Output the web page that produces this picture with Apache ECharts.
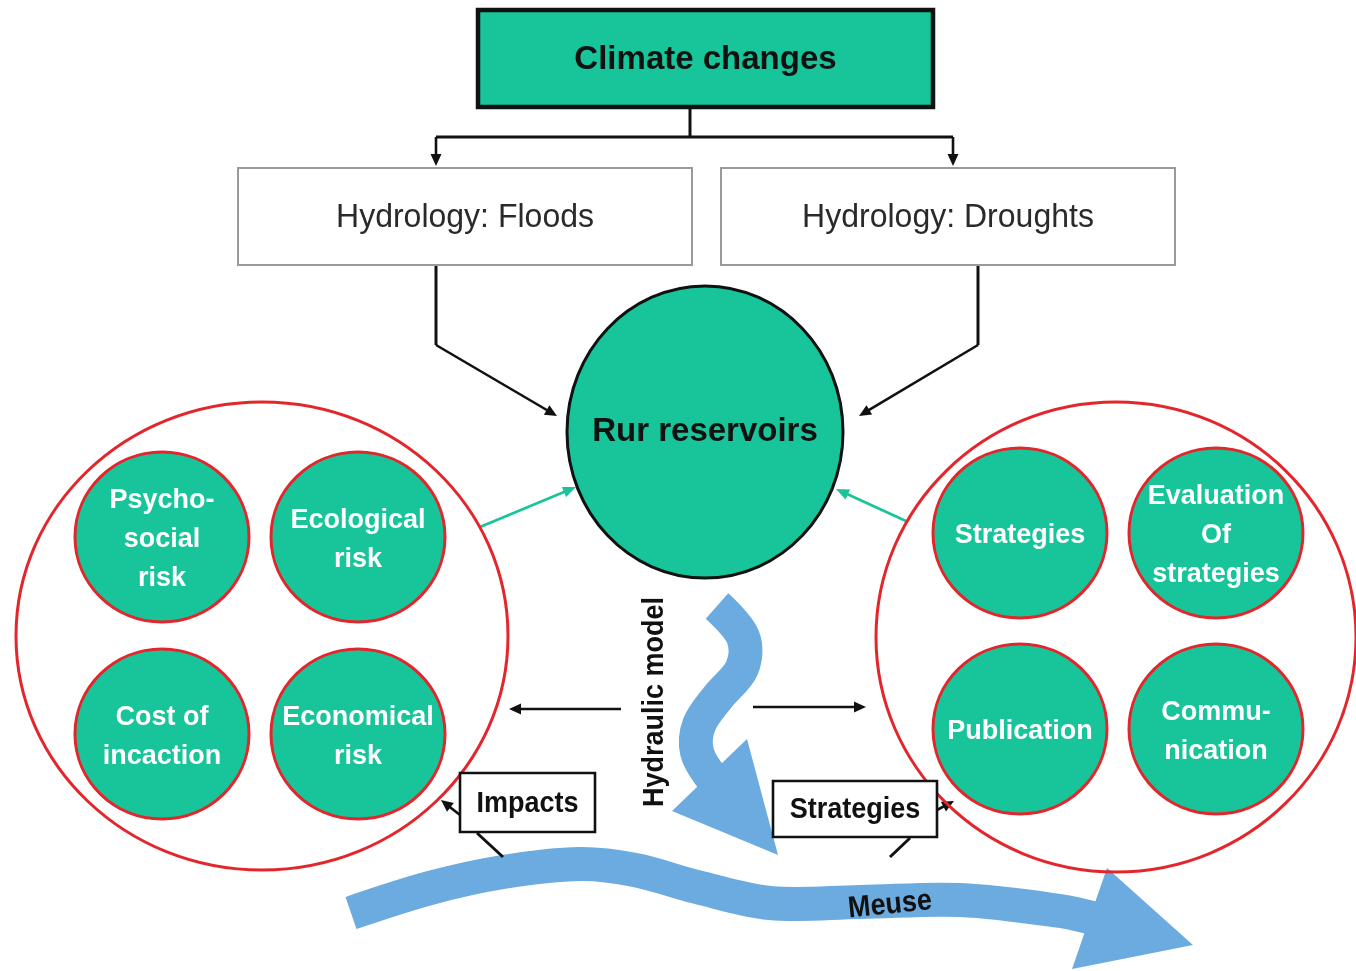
<!DOCTYPE html>
<html><head><meta charset="utf-8">
<script src="https://cdn.jsdelivr.net/npm/echarts@6/dist/echarts.min.js"></script>
<style>html,body{margin:0;padding:0;background:#fff}#c{width:1356px;height:971px}</style>
</head><body><div id="c"></div><script>
// ---------- text content ----------
const topLabel = 'Climate changes';
const hydrologyLabels = ['Hydrology: Floods', 'Hydrology: Droughts'];
const reservoirLabel = 'Rur reservoirs';
const impactLabels = ['Psycho-\nsocial\nrisk', 'Ecological\nrisk', 'Cost of\nincaction', 'Economical\nrisk'];
const strategyLabels = ['Strategies', 'Evaluation\nOf\nstrategies', 'Publication', 'Commu-\nnication'];
const calloutLabels = ['Impacts', 'Strategies'];
const flowLabels = ['Hydraulic model', 'Meuse'];

// ---------- layout in diagram units (mapped by hidden value axes) ----------
const topBox = [478, 10, 933, 107];
const hydroBoxes = [[238, 168, 692, 265], [721, 168, 1175, 265]];
const reservoirShape = [705, 432, 138, 146];
const groupShapes = [[262, 636, 246, 234], [1116, 637, 240, 235]];
const impactCenters = [[162, 537], [358, 537], [162, 734], [358, 734]];
const strategyCenters = [[1020, 533], [1216, 533], [1020, 729], [1216, 729]];
const smallR = [87, 85];
const calloutBoxes = [[460, 773, 595, 832], [773, 781, 937, 837]];
const blackLinks = [
  [[690, 107], [690, 137]],
  [[436, 137], [953, 137]],
  [[436, 265], [436, 345]],
  [[978, 265], [978, 345]],
  [[477, 833], [503, 857]],
  [[910, 838], [890, 857]]
];
const blackArrows = [
  [[436, 137], [436, 166]],
  [[953, 137], [953, 166]],
  [[436, 345], [557, 416]],
  [[978, 345], [859, 416]],
  [[621, 709], [509, 709]],
  [[753, 707], [866, 707]],
  [[460, 815], [441, 800]],
  [[937, 810], [954, 801]]
];
const greenArrows = [
  [[480, 527], [576, 487]],
  [[906, 521], [836, 489]]
];
const hydraulicPath = [[717, 606], [743, 637], [742, 668], [718, 697], [699, 725], [697, 752], [711, 777]];
const hydraulicHead = [[747, 739], [778, 855], [672, 811]];
const meusePath = [[351, 913], [430, 888], [503, 872], [580, 864], [635, 870], [697, 887], [770, 903], [860, 902], [960, 900], [1060, 911], [1096, 919]];
const meuseHead = [[1107, 868], [1193, 945], [1072, 969]];
const flowLabelPos = [[655, 702], [890, 905]];

// ---------- styles ----------
const GREEN = '#18c499', RED = '#e3262b', BLUE = '#6cabdf', BLACK = '#111111';
const SANS = '"Liberation Sans", Arial, sans-serif';

function headPts(tip, from, len, hw) {
  const dx = tip[0] - from[0], dy = tip[1] - from[1], d = Math.hypot(dx, dy);
  const ux = dx / d, uy = dy / d, bx = tip[0] - ux * len, by = tip[1] - uy * len;
  return [tip, [bx - uy * hw, by + ux * hw], [bx + uy * hw, by - ux * hw]];
}
function arrowEls(api, pts, color, lw, len, hw) {
  const P = pts.map(p => api.coord(p));
  const tip = P[P.length - 1], from = P[P.length - 2];
  const dx = tip[0] - from[0], dy = tip[1] - from[1], d = Math.hypot(dx, dy);
  const line = P.slice();
  line[line.length - 1] = [tip[0] - dx / d * len * 0.7, tip[1] - dy / d * len * 0.7];
  return [
    { type: 'polyline', shape: { points: line }, style: { stroke: color, lineWidth: lw, fill: null } },
    { type: 'polygon', shape: { points: headPts(tip, from, len, hw) }, style: { fill: color } }
  ];
}
function rectEl(api, b, style) {
  const a = api.coord([b[0], b[1]]), c = api.coord([b[2], b[3]]);
  return { type: 'rect', shape: { x: a[0], y: a[1], width: c[0] - a[0], height: c[1] - a[1] }, style: style };
}
function textEl(api, p, text, font, fill, extra) {
  const c = api.coord(p);
  return Object.assign({ type: 'text', x: c[0], y: c[1],
    style: { text: text, font: font, fill: fill, align: 'center', verticalAlign: 'middle', lineHeight: 39 } }, extra || {});
}
function ellipseEl(api, cx, cy, rx, ry, style) {
  const c = api.coord([cx, cy]), s = api.size([rx, ry]);
  return { type: 'ellipse', shape: { cx: c[0], cy: c[1], rx: s[0], ry: s[1] }, style: style };
}

const chart = echarts.init(document.getElementById('c'));
const circleData = impactLabels.map((t, i) => ({ name: t, value: [impactCenters[i][0], impactCenters[i][1], smallR[0], smallR[1]] }))
  .concat(strategyLabels.map((t, i) => ({ name: t, value: [strategyCenters[i][0], strategyCenters[i][1], smallR[0], smallR[1]] })));

chart.setOption({
  animation: false,
  grid: { left: 0, right: 0, top: 0, bottom: 0 },
  xAxis: { type: 'value', min: 0, max: 1356, show: false },
  yAxis: { type: 'value', min: 0, max: 971, inverse: true, show: false },
  series: [
    { // rivers / flow arrows
      type: 'custom', coordinateSystem: 'cartesian2d', z: 1, data: [[0, 0]],
      renderItem: function (params, api) {
        return { type: 'group', children: [
          { type: 'polyline', shape: { points: meusePath.map(p => api.coord(p)), smooth: 0.35 }, style: { stroke: BLUE, lineWidth: 34, fill: null, lineCap: 'butt', lineJoin: 'round' } },
          { type: 'polygon', shape: { points: meuseHead.map(p => api.coord(p)) }, style: { fill: BLUE } },
          { type: 'polyline', shape: { points: hydraulicPath.map(p => api.coord(p)), smooth: 0.35 }, style: { stroke: BLUE, lineWidth: 34, fill: null, lineCap: 'butt', lineJoin: 'round' } },
          { type: 'polygon', shape: { points: hydraulicHead.map(p => api.coord(p)) }, style: { fill: BLUE } }
        ] };
      }
    },
    { // connectors
      type: 'custom', coordinateSystem: 'cartesian2d', z: 2, data: [[0, 0]],
      renderItem: function (params, api) {
        let ch = [];
        blackLinks.forEach(l => ch.push({ type: 'polyline', shape: { points: l.map(p => api.coord(p)) }, style: { stroke: BLACK, lineWidth: 3, fill: null } }));
        blackArrows.forEach(a => { ch = ch.concat(arrowEls(api, a, BLACK, 2.6, 12, 5.5)); });
        greenArrows.forEach(a => { ch = ch.concat(arrowEls(api, a, GREEN, 2.6, 13, 5.5)); });
        return { type: 'group', children: ch };
      }
    },
    { // group ellipses
      type: 'custom', coordinateSystem: 'cartesian2d', z: 3, data: groupShapes,
      renderItem: function (params, api) {
        return ellipseEl(api, api.value(0), api.value(1), api.value(2), api.value(3), { fill: null, stroke: RED, lineWidth: 3 });
      }
    },
    { // top boxes and reservoir
      type: 'custom', coordinateSystem: 'cartesian2d', z: 4, data: [[0, 0]],
      renderItem: function (params, api) {
        const ch = [];
        ch.push(rectEl(api, topBox, { fill: GREEN, stroke: BLACK, lineWidth: 4.5 }));
        ch.push(textEl(api, [(topBox[0] + topBox[2]) / 2, (topBox[1] + topBox[3]) / 2 + 1], topLabel, 'bold 33px ' + SANS, BLACK));
        hydroBoxes.forEach((b, i) => {
          ch.push(rectEl(api, b, { fill: '#fff', stroke: '#9a9a9a', lineWidth: 2 }));
          ch.push(textEl(api, [(b[0] + b[2]) / 2, (b[1] + b[3]) / 2 + 1], hydrologyLabels[i], '33px ' + SANS, '#2a2a2a', { scaleX: 0.97 }));
        });
        ch.push(ellipseEl(api, reservoirShape[0], reservoirShape[1], reservoirShape[2], reservoirShape[3], { fill: GREEN, stroke: BLACK, lineWidth: 3 }));
        ch.push(textEl(api, [reservoirShape[0], reservoirShape[1]], reservoirLabel, 'bold 33px ' + SANS, BLACK));
        return { type: 'group', children: ch };
      }
    },
    { // small circles
      type: 'custom', coordinateSystem: 'cartesian2d', z: 5, data: circleData,
      renderItem: function (params, api) {
        const d = circleData[params.dataIndex];
        return { type: 'group', children: [
          ellipseEl(api, api.value(0), api.value(1), api.value(2), api.value(3), { fill: GREEN, stroke: RED, lineWidth: 3 }),
          textEl(api, [api.value(0), api.value(1) + 3], d.name, 'bold 27px ' + SANS, '#ffffff')
        ] };
      }
    },
    { // callouts and flow labels
      type: 'custom', coordinateSystem: 'cartesian2d', z: 6, data: [[0, 0]],
      renderItem: function (params, api) {
        const ch = [];
        calloutBoxes.forEach((b, i) => {
          ch.push(rectEl(api, b, { fill: '#fff', stroke: BLACK, lineWidth: 2.6 }));
          ch.push(textEl(api, [(b[0] + b[2]) / 2, (b[1] + b[3]) / 2 + 1], calloutLabels[i], 'bold 30px ' + SANS, BLACK, { scaleX: 0.9 }));
        });
        ch.push(textEl(api, flowLabelPos[0], flowLabels[0], 'bold 30px ' + SANS, BLACK, { rotation: Math.PI / 2, scaleX: 0.9 }));
        ch.push(textEl(api, flowLabelPos[1], flowLabels[1], 'bold 30px ' + SANS, BLACK, { rotation: 0.1, scaleX: 0.9 }));
        return { type: 'group', children: ch };
      }
    }
  ]
});
</script></body></html>
